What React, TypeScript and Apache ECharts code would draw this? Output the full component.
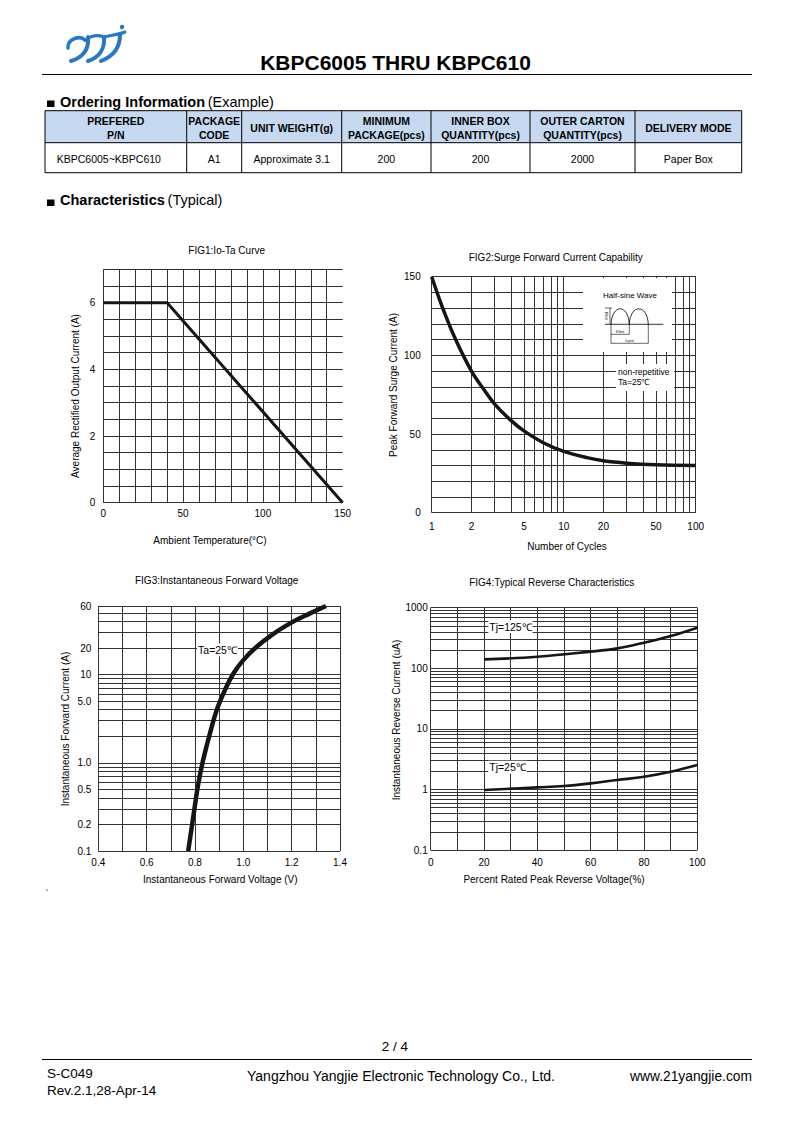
import React, { useEffect, useRef } from "react";
import * as echarts from "echarts";

const FONT = "'Liberation Sans', Arial, Helvetica, sans-serif";
const GRID = "#333333";
const CURVE = "#151515";

// ---------- Ordering table ----------
const tableHeaders = [
  ["PREFERED", "P/N"],
  ["PACKAGE", "CODE"],
  ["UNIT WEIGHT(g)"],
  ["MINIMUM", "PACKAGE(pcs)"],
  ["INNER BOX", "QUANTITY(pcs)"],
  ["OUTER CARTON", "QUANTITY(pcs)"],
  ["DELIVERY MODE"],
];
const tableRow = ["KBPC6005~KBPC610", "A1", "Approximate 3.1", "200", "200", "2000", "Paper Box"];

// ---------- FIG1 : Io-Ta ----------
const fig1Temp = [0, 40, 150];
const fig1Current = [6, 6, 0];
const fig1LabelX = [0, 50, 100, 150];
const fig1LabelY = [0, 2, 4, 6];

// ---------- FIG2 : Surge ----------
const fig2Cycles = [1, 1.2, 1.5, 2, 2.5, 3, 4, 5, 7, 10, 15, 20, 30, 50, 100];
const fig2Current = [150, 131, 111, 90, 78, 69, 58.5, 52, 44.5, 39, 35, 33, 31.5, 30.5, 30];
const fig2GridX = [1, 2, 3, 4, 5, 6, 7, 8, 9, 10, 20, 30, 40, 50, 60, 70, 80, 90, 100];
const fig2LabelX = [1, 2, 5, 10, 20, 50, 100];
const fig2LabelY = [0, 50, 100, 150];

// ---------- FIG3 : Forward voltage ----------
const fig3Voltage = [0.772, 0.793, 0.814, 0.834, 0.862, 0.89, 0.924, 0.959, 1.0, 1.055, 1.117, 1.193, 1.276, 1.342];
const fig3Current = [0.1, 0.245, 0.585, 1.08, 2.16, 3.97, 6.69, 10.3, 14.6, 20.7, 28.1, 38.1, 49.5, 60];
const fig3GridY = [0.1, 0.2, 0.3, 0.4, 0.5, 0.6, 0.7, 0.8, 0.9, 1, 2, 3, 4, 5, 6, 7, 8, 9, 10, 20, 30, 40, 50, 60];
const fig3LabelY = [0.1, 0.2, 0.5, 1, 5, 10, 20, 60];
const fig3LabelYText = ["0.1", "0.2", "0.5", "1.0", "5.0", "10", "20", "60"];
const fig3LabelX = [0.4, 0.6, 0.8, 1.0, 1.2, 1.4];

// ---------- FIG4 : Reverse characteristics ----------
const fig4Percent125 = [20, 40, 60, 70, 80, 90, 100];
const fig4Ir125 = [140, 155, 188, 213, 264, 341, 468];
const fig4Percent25 = [20, 40, 50, 60, 70, 80, 90, 100];
const fig4Ir25 = [0.98, 1.08, 1.14, 1.26, 1.43, 1.62, 1.96, 2.53];
const fig4GridY = [
  0.1, 0.2, 0.3, 0.4, 0.5, 0.6, 0.7, 0.8, 0.9,
  1, 2, 3, 4, 5, 6, 7, 8, 9,
  10, 20, 30, 40, 50, 60, 70, 80, 90,
  100, 200, 300, 400, 500, 600, 700, 800, 900, 1000,
];
const fig4LabelY = [0.1, 1, 10, 100, 1000];
const fig4LabelYText = ["0.1", "1", "10", "100", "1000"];
const fig4LabelX = [0, 20, 40, 60, 80, 100];

// ---------- helpers ----------
const zip = (a: number[], b: number[]) => a.map((v, i) => [v, b[i]]);
const has = (arr: number[], v: number) => arr.some((l) => Math.abs(l - v) < 1e-6);
const axisText = () => ({ color: "#000", fontSize: 10, fontFamily: FONT });
const gridLine = (extra: any = {}) => ({ show: true, lineStyle: { color: GRID, width: 1 }, ...extra });

function txt(text: string, x: number, y: number, extra: any = {}, el: any = {}) {
  return {
    type: "text",
    x,
    y,
    z: 100,
    ...el,
    style: {
      text,
      fontSize: 10,
      fontFamily: FONT,
      fill: "#000",
      align: "center",
      verticalAlign: "middle",
      ...extra,
    },
  };
}
function ln(x1: number, y1: number, x2: number, y2: number, w = 1, color = "#000") {
  return { type: "line", z: 100, shape: { x1, y1, x2, y2 }, style: { stroke: color, lineWidth: w } };
}
function rect(x: number, y: number, w: number, h: number, fill: string, z = 99) {
  return {
    type: "rect",
    z,
    shape: { x, y, width: w, height: h },
    style: { fill, stroke: "none" },
  };
}
function bez(x1: number, y1: number, c1x: number, c1y: number, c2x: number, c2y: number, x2: number, y2: number, w: number, color: string) {
  return {
    type: "bezierCurve",
    z: 100,
    shape: { x1, y1, cpx1: c1x, cpy1: c1y, cpx2: c2x, cpy2: c2y, x2, y2 },
    style: { stroke: color, lineWidth: w, fill: "none", lineCap: "round" },
  };
}

function buildGraphics() {
  const g: any[] = [];
  const BLUE = "#2a78c2";
  // logo
  g.push(bez(68, 48, 67, 39, 80, 35, 85, 40, 3.6, BLUE));
  g.push(bez(88, 37, 89, 48, 84, 57, 71, 61, 4, BLUE));
  g.push(bez(85, 40, 92, 35, 99, 35, 104, 37, 3.2, BLUE));
  g.push(bez(104, 37, 105, 48, 100, 57, 88, 61, 4, BLUE));
  g.push(bez(104, 37, 110, 35, 118, 35, 125, 32, 3, BLUE));
  g.push(bez(120, 35, 120, 47, 114, 56, 101, 61, 4, BLUE));
  g.push({ type: "circle", z: 100, shape: { cx: 122, cy: 27, r: 2.2 }, style: { fill: BLUE } });

  // header
  g.push(txt("KBPC6005 THRU KBPC610", 395.5, 62, { fontSize: 21, fontWeight: "bold" }));
  g.push(ln(42, 74.5, 752, 74.5, 1.2));

  // section headings
  const rich = {
    b: { fontWeight: "bold", fontSize: 14.5, fontFamily: FONT, fill: "#000" },
    r: { fontSize: 14.5, fontFamily: FONT, fill: "#000" },
  };
  g.push(rect(47, 100.5, 7.5, 6.5, "#000"));
  g.push(txt("{b|Ordering Information} {r|(Example)}", 60, 101.5, { align: "left", rich }));
  g.push(rect(47, 199.5, 7.5, 6.5, "#000"));
  g.push(txt("{b|Characteristics} {r|(Typical)}", 60, 200, { align: "left", rich }));

  // table
  const cols = [45, 186.7, 241.7, 341.7, 431, 530, 635, 741.7];
  const rows = [110.7, 142.7, 172.7];
  g.push(rect(cols[0], rows[0], cols[7] - cols[0], rows[1] - rows[0], "#c6d9f1"));
  rows.forEach((r) => g.push(ln(cols[0], r, cols[7], r, 1)));
  cols.forEach((c) => g.push(ln(c, rows[0], c, rows[2], 1)));
  tableHeaders.forEach((h, i) => {
    const cx = (cols[i] + cols[i + 1]) / 2;
    const st = { fontSize: 10.5, fontWeight: "bold" };
    if (h.length === 2) {
      g.push(txt(h[0], cx, 120.7, st));
      g.push(txt(h[1], cx, 135, st));
    } else {
      g.push(txt(h[0], cx, 128, st));
    }
  });
  tableRow.forEach((t, i) => {
    const cx = (cols[i] + cols[i + 1]) / 2;
    if (i === 0) g.push(txt(t, 56.7, 158.5, { fontSize: 10.5, align: "left" }));
    else g.push(txt(t, cx, 158.5, { fontSize: 10.5 }));
  });

  // chart titles
  g.push(txt("FIG1:Io-Ta Curve", 226.7, 250));
  g.push(txt("FIG2:Surge Forward Current Capability", 555.7, 257.7));
  g.push(txt("FIG3:Instantaneous Forward Voltage", 216.7, 580.7));
  g.push(txt("FIG4:Typical Reverse Characteristics", 551.7, 582.7));

  // axis names
  const v = { rotation: Math.PI / 2 };
  g.push(txt("Ambient Temperature(°C)", 210, 540));
  g.push(txt("Average Rectified Output Current (A)", 75, 396, {}, v));
  g.push(txt("Number of Cycles", 567, 546.7));
  g.push(txt("Peak Forward Surge Current (A)", 393.3, 385, {}, v));
  g.push(txt("Instantaneous Forward Voltage (V)", 220.3, 879.3));
  g.push(txt("Instantaneous Forward Current (A)", 65, 729, {}, v));
  g.push(txt("Percent Rated Peak Reverse Voltage(%)", 554, 879.3));
  g.push(txt("Instantaneous Reverse Current (uA)", 396, 720, {}, v));

  // FIG2 inset
  g.push(rect(583, 278, 89, 74, "#fff"));
  g.push(rect(616, 364, 58, 27, "#fff"));
  g.push(txt("Half-sine Wave", 630, 295, { fontSize: 8 }));
  g.push(ln(605, 324.3, 663.3, 324.3, 0.8));
  g.push(ln(610, 308, 610, 324.3, 0.6));
  g.push(ln(605, 308, 612, 308, 0.6));
  g.push(txt("IFSM", 606.5, 316, { fontSize: 3.2 }, v));
  g.push(bez(611, 324.3, 611.8, 303.5, 628.5, 303.5, 629.3, 324.3, 0.8, "#000"));
  g.push(bez(629.3, 324.3, 630.1, 303.5, 647.5, 303.5, 648.3, 324.3, 0.8, "#000"));
  g.push(ln(611, 324.3, 611, 343.3, 0.6));
  g.push(ln(629.3, 324.3, 629.3, 334.3, 0.6));
  g.push(ln(648.3, 324.3, 648.3, 343.3, 0.6));
  g.push(ln(611, 334.3, 629.3, 334.3, 0.6));
  g.push(ln(611, 343.3, 648.3, 343.3, 0.6));
  g.push(txt("8.3ms", 620, 331.8, { fontSize: 3.2 }));
  g.push(txt("1cycle", 629.5, 340.8, { fontSize: 3.2 }));
  g.push(txt("non-repetitive", 618, 371.7, { fontSize: 8.5, align: "left" }));
  g.push(txt("Ta=25℃", 618, 381.5, { fontSize: 8.5, align: "left" }));

  // FIG3 / FIG4 annotations
  g.push(txt("Ta=25℃", 217.5, 650, { fontSize: 10.5, backgroundColor: "#fff", padding: [1, 1] }));
  g.push(txt("Tj=125℃", 510.5, 626.7, { fontSize: 10.5, backgroundColor: "#fff", padding: [1, 1] }));
  g.push(txt("Tj=25℃", 507.5, 767.3, { fontSize: 10.5, backgroundColor: "#fff", padding: [1, 1] }));

  // stray mark
  g.push(txt("`", 47, 894, { fontSize: 10 }));

  // footer
  g.push(txt("2 / 4", 395, 1046, { fontSize: 13.5 }));
  g.push(ln(42, 1059.5, 752, 1059.5, 1));
  g.push(txt("S-C049", 47, 1073, { fontSize: 13.5, align: "left" }));
  g.push(txt("Rev.2.1,28-Apr-14", 47, 1090, { fontSize: 13.5, align: "left" }));
  g.push(txt("Yangzhou Yangjie Electronic Technology Co., Ltd.", 401, 1076, { fontSize: 14 }));
  g.push(txt("www.21yangjie.com", 752, 1076, { fontSize: 13.8, align: "right" }));
  return g;
}

function buildOption(): any {
  const lineSeries = (x: number, data: number[][], width: number, smooth: any) => ({
    type: "line",
    xAxisIndex: x,
    yAxisIndex: x,
    data,
    smooth,
    showSymbol: false,
    symbol: "none",
    silent: true,
    lineStyle: { color: CURVE, width },
    z: 5,
  });

  return {
    animation: false,
    backgroundColor: "#fff",
    grid: [
      { left: 103.3, top: 269.3, width: 239.4, height: 233.4 },
      { left: 431.7, top: 276.7, width: 264, height: 236 },
      { left: 98.3, top: 606, width: 241.7, height: 245 },
      { left: 430.7, top: 607.7, width: 266.6, height: 242.3 },
    ],
    xAxis: [
      {
        gridIndex: 0, type: "value", min: 0, max: 150, interval: 10,
        axisLine: { show: false }, axisTick: { show: false },
        axisLabel: { ...axisText(), margin: 6, formatter: (val: number) => (has(fig1LabelX, val) ? String(val) : "") },
        splitLine: gridLine({ showMaxLine: false }),
      },
      {
        gridIndex: 1, type: "log", logBase: 10, min: 1, max: 100,
        axisLine: { show: false },
        axisTick: { show: false, customValues: fig2GridX },
        axisLabel: { ...axisText(), margin: 9, customValues: fig2LabelX, formatter: (val: number) => String(Math.round(val)) },
        splitLine: gridLine(),
      },
      {
        gridIndex: 2, type: "value", min: 0.4, max: 1.4, interval: 0.1,
        axisLine: { show: false }, axisTick: { show: false },
        axisLabel: { ...axisText(), margin: 6, formatter: (val: number) => (has(fig3LabelX, val) ? val.toFixed(1) : "") },
        splitLine: gridLine(),
      },
      {
        gridIndex: 3, type: "value", min: 0, max: 100, interval: 10,
        axisLine: { show: false }, axisTick: { show: false },
        axisLabel: { ...axisText(), margin: 7, formatter: (val: number) => (has(fig4LabelX, val) ? String(val) : "") },
        splitLine: gridLine(),
      },
    ],
    yAxis: [
      {
        gridIndex: 0, type: "value", min: 0, max: 7, interval: 0.5,
        axisLine: { show: false }, axisTick: { show: false },
        axisLabel: { ...axisText(), margin: 8, formatter: (val: number) => (has(fig1LabelY, val) ? String(val) : "") },
        splitLine: { show: true, lineStyle: { color: "#2e2e2e", width: 1.1 } },
      },
      {
        gridIndex: 1, type: "value", min: 0, max: 150, interval: 10,
        axisLine: { show: false }, axisTick: { show: false },
        axisLabel: { ...axisText(), margin: 11, formatter: (val: number) => (has(fig2LabelY, val) ? String(val) : "") },
        splitLine: gridLine(),
      },
      {
        gridIndex: 2, type: "log", logBase: 10, min: 0.1, max: 60,
        axisLine: { show: false },
        axisTick: { show: false, customValues: fig3GridY },
        axisLabel: {
          ...axisText(), margin: 7, customValues: fig3LabelY,
          formatter: (val: number) => {
            const i = fig3LabelY.findIndex((l) => Math.abs(l - val) / l < 1e-4);
            return i >= 0 ? fig3LabelYText[i] : "";
          },
        },
        splitLine: gridLine(),
      },
      {
        gridIndex: 3, type: "log", logBase: 10, min: 0.1, max: 1000,
        axisLine: { show: false },
        axisTick: { show: false, customValues: fig4GridY },
        axisLabel: {
          ...axisText(), margin: 3, customValues: fig4LabelY,
          formatter: (val: number) => {
            const i = fig4LabelY.findIndex((l) => Math.abs(l - val) / l < 1e-4);
            return i >= 0 ? fig4LabelYText[i] : "";
          },
        },
        splitLine: gridLine(),
      },
    ],
    series: [
      lineSeries(0, zip(fig1Temp, fig1Current), 3, false),
      lineSeries(1, zip(fig2Cycles, fig2Current), 3.5, 0.35),
      lineSeries(2, zip(fig3Voltage, fig3Current), 4.5, 0.4),
      lineSeries(3, zip(fig4Percent125, fig4Ir125), 2.6, 0.4),
      lineSeries(3, zip(fig4Percent25, fig4Ir25), 2.6, 0.4),
    ],
    graphic: { elements: buildGraphics() },
  };
}

export default function App() {
  const ref = useRef<HTMLDivElement>(null);
  useEffect(() => {
    if (!ref.current) return;
    const chart = echarts.init(ref.current, null, { renderer: "svg" });
    chart.setOption(buildOption());
    return () => chart.dispose();
  }, []);
  return (
    <div
      ref={ref}
      style={{ position: "absolute", left: 0, top: 0, width: 793, height: 1122, background: "#fff" }}
    />
  );
}
